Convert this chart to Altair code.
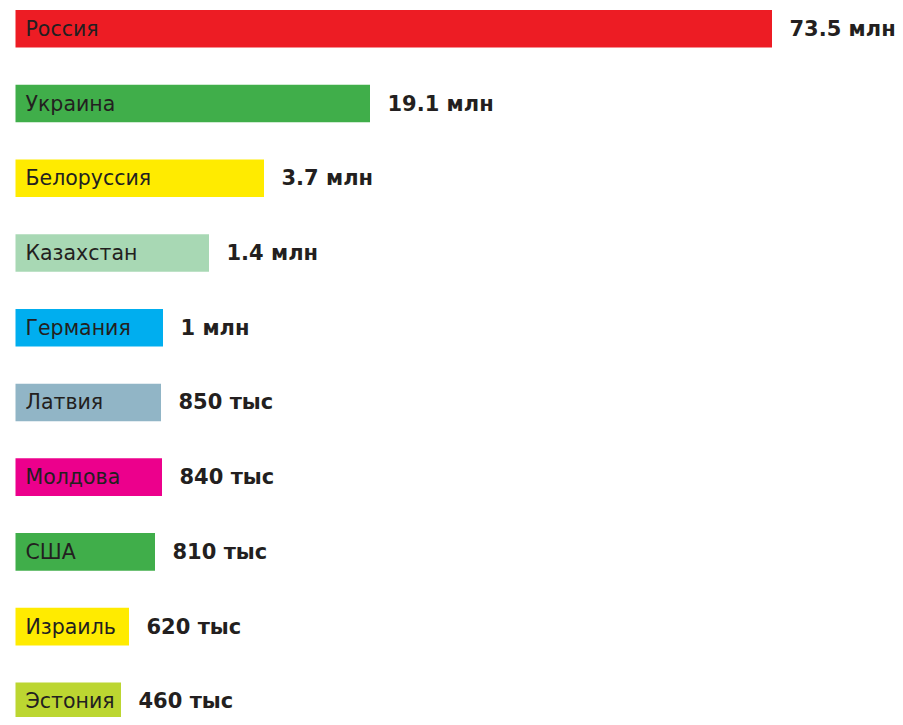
import altair as alt
import pandas as pd

countries = ["Россия", "Украина", "Белоруссия", "Казахстан", "Германия",
             "Латвия", "Молдова", "США", "Израиль", "Эстония"]
labels = ["73.5 млн", "19.1 млн", "3.7 млн", "1.4 млн", "1 млн",
          "850 тыс", "840 тыс", "810 тыс", "620 тыс", "460 тыс"]
# visual bar lengths as drawn in the reference (not proportional to values)
lengths = [756.5, 354.5, 248.5, 193.5, 147.5, 145.5, 146.5, 139.5, 113.5, 105.5]
colors = ["#ED1C24", "#40AE4A", "#FFEB00", "#A8D8B4", "#00AEEF",
          "#91B5C6", "#EC008C", "#40AE4A", "#FFEB00", "#BCD631"]

df = pd.DataFrame({
    "country": countries,
    "label": labels,
    "length": lengths,
    "color": colors,
    "idx": list(range(len(countries))),
})

W, H = 887, 709
step = 75.8
d0 = -16.0 / step
d1 = d0 + H / step

xs = alt.Scale(domain=[-7.5, W - 7.5], nice=False, zero=False)
ys = alt.Scale(domain=[d0, d1], nice=False, zero=False, reverse=True)

base = alt.Chart(df).encode(
    y=alt.Y("idx:Q", scale=ys, axis=None),
)

bars = base.mark_bar(size=37.6, clip=True, orient="horizontal").encode(
    x=alt.X("length:Q", scale=xs, axis=None),
    x2=alt.datum(0),
    color=alt.Color("color:N", scale=None, legend=None),
)

names = base.mark_text(align="left", baseline="middle", dx=10, dy=1, fontSize=20.5,
                       font="DejaVu Sans", color="#231F20", clip=True).encode(
    x=alt.datum(0, scale=xs),
    text="country:N",
)

vals = base.mark_text(align="left", baseline="middle", dx=17.5, dy=1, fontSize=21,
                      font="DejaVu Sans", fontWeight="bold", color="#231F20",
                      clip=False).encode(
    x=alt.X("length:Q", scale=xs),
    text="label:N",
)

chart = alt.layer(bars, names, vals).properties(
    width=W, height=H, padding=0,
    autosize=alt.AutoSizeParams(type="none"),
).configure_view(stroke=None)

chart.save("out.html", embed_options={"renderer": "svg", "actions": False})
